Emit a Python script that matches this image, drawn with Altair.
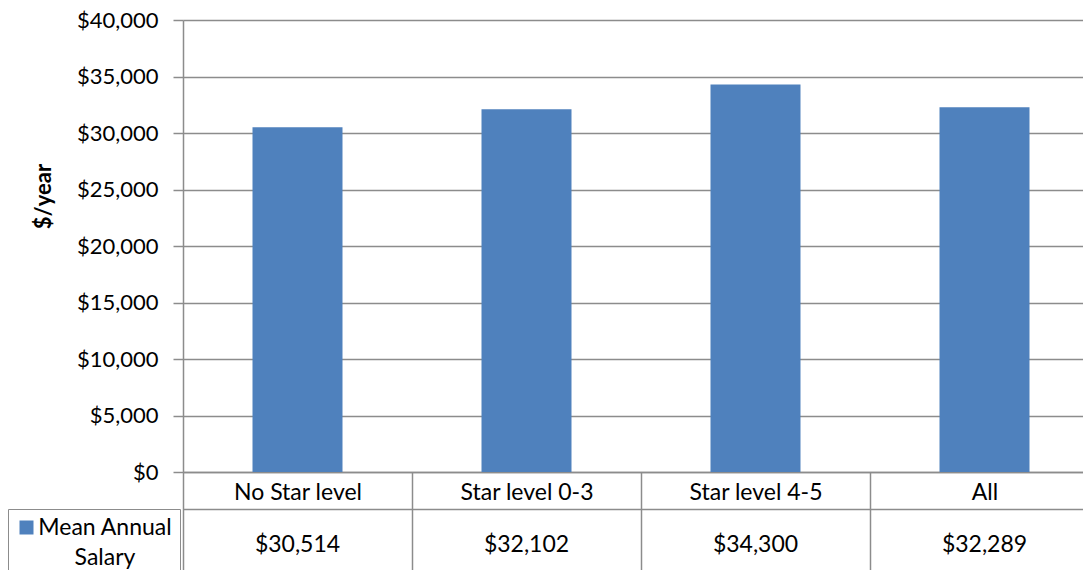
import altair as alt
import pandas as pd

categories = ["No Star level", "Star level 0-3", "Star level 4-5", "All"]
salary = [30514, 32102, 34300, 32289]
salary_labels = ["$30,514", "$32,102", "$34,300", "$32,289"]
series_name = "Mean Annual Salary"
y_ticks = [0, 5000, 10000, 15000, 20000, 25000, 30000, 35000, 40000]

df = pd.DataFrame({
    "category": categories,
    "salary": salary,
    "label": salary_labels,
    "series": [series_name] * len(categories),
})

FONT = "Lato"
FS = 23
GRID = "#8c8c8c"
X_RANGE = [0, 916]
TOP = 12
HEIGHT = 452

bars = alt.Chart(df).mark_bar(width=alt.RelativeBandSize(0.393)).encode(
    x=alt.X("category:N", sort=categories,
            scale=alt.Scale(paddingInner=0, paddingOuter=0, range=X_RANGE),
            axis=alt.Axis(title=None, orient="bottom", labelAngle=0,
                          tickBand="extent", tickSize=106, tickColor=GRID,
                          tickWidth=1.5, domainColor=GRID, domainWidth=1.5,
                          labelPadding=-86, labelBaseline="middle",
                          labelFontSize=FS, labelFont=FONT, labelColor="#000")),
    y=alt.Y("salary:Q", scale=alt.Scale(domain=[0, 40000], nice=False),
            axis=alt.Axis(title="$/year", values=y_ticks, format="$,d",
                          labelFontSize=22, labelFont=FONT, labelColor="#000",
                          tickSize=10, tickColor=GRID, tickWidth=1.5,
                          domainColor=GRID, domainWidth=1.5,
                          gridColor=GRID, gridWidth=1.5, labelPadding=15,
                          titleFont=FONT, titleFontSize=22, titleFontWeight="bold",
                          titleColor="#000", titleX=-140, titleY=176,
                          titleAlign="center", titleBaseline="middle", titleAngle=-90)),
    color=alt.Color("series:N",
                    scale=alt.Scale(domain=[series_name], range=["#4F81BD"]),
                    legend=alt.Legend(title=None, orient="none", legendX=-175,
                                      legendY=509 - 8 - TOP,
                                      symbolType="square", symbolSize=196,
                                      symbolStrokeWidth=0,
                                      labelFont=FONT, labelFontSize=FS, labelColor="#000",
                                      labelExpr="['Mean Annual', 'Salary']",
                                      labelAlign="center",
                                      labelOffset=67, labelLimit=200,
                                      strokeColor=GRID, padding=7)),
)

table = alt.Chart(df).mark_tick(opacity=0).encode(
    x=alt.X("label:N", sort=salary_labels,
            scale=alt.Scale(paddingInner=0, paddingOuter=0, range=X_RANGE),
            axis=alt.Axis(title=None, orient="bottom", offset=37, labelAngle=0,
                          ticks=False, labelPadding=35, labelBaseline="middle",
                          domainColor=GRID, domainWidth=1.5,
                          labelFontSize=FS, labelFont=FONT, labelColor="#000")),
)

chart = alt.layer(bars, table).resolve_scale(x="independent").properties(
    width=899, height=HEIGHT,
    autosize=alt.AutoSizeParams(type="none"),
    padding={"left": 175, "top": TOP, "right": 1, "bottom": 98},
).configure(
    style={"guide-label": {"lineHeight": 30}}
).configure_view(stroke=None).configure_axis(grid=False).configure_axisY(grid=True)

chart.save("out.html", embed_options={"renderer": "svg", "actions": False})
